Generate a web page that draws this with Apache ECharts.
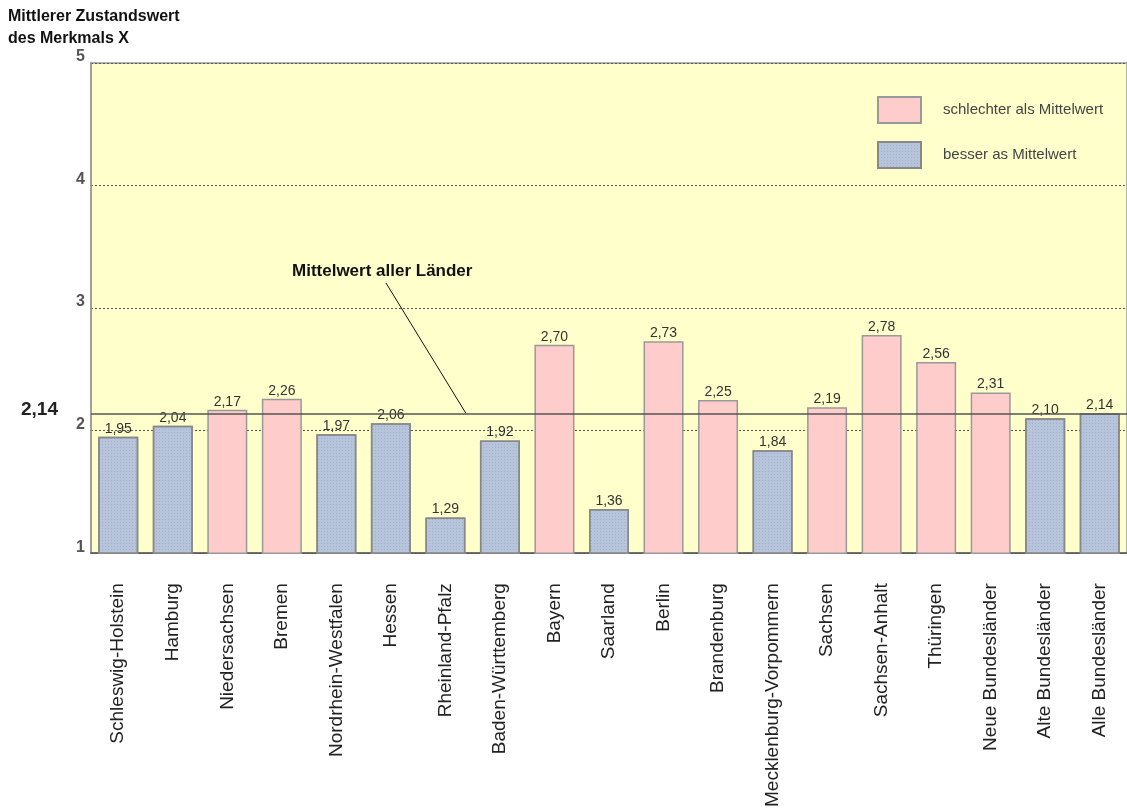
<!DOCTYPE html>
<html>
<head>
<meta charset="utf-8">
<script src="https://cdn.jsdelivr.net/npm/echarts@6/dist/echarts.min.js"></script>
<style>
  html, body { margin: 0; padding: 0; background: #ffffff; }
  #chart { width: 1127px; height: 810px; }
</style>
</head>
<body>
<div id="chart"></div>
<script>
// Länder and their mean condition value of feature X
const laender = [
  'Schleswig-Holstein', 'Hamburg', 'Niedersachsen', 'Bremen', 'Nordrhein-Westfalen',
  'Hessen', 'Rheinland-Pfalz', 'Baden-Württemberg', 'Bayern', 'Saarland', 'Berlin',
  'Brandenburg', 'Mecklenburg-Vorpommern', 'Sachsen', 'Sachsen-Anhalt', 'Thüringen',
  'Neue Bundesländer', 'Alte Bundesländer', 'Alle Bundesländer'
];
const werte = [
  1.95, 2.04, 2.17, 2.26, 1.97,
  2.06, 1.29, 1.92, 2.70, 1.36, 2.73,
  2.25, 1.84, 2.19, 2.78, 2.56,
  2.31, 2.10, 2.14
];
const mittelwert = 2.14;
const yTicks = [1, 2, 3, 4, 5];

const nameSchlechter = 'schlechter als Mittelwert';
const nameBesser = 'besser as Mittelwert';

const FONT = 'Arial, "Liberation Sans", sans-serif';
const fmt = v => v.toFixed(2).replace('.', ',');

const schlechter = werte.map(v => (v > mittelwert ? v : '-'));
const besser = werte.map(v => (v <= mittelwert ? v : '-'));

const chart = echarts.init(document.getElementById('chart'), null, { renderer: 'canvas' });

const barLabel = {
  show: true,
  position: 'top',
  distance: 1,
  color: '#333',
  fontFamily: FONT,
  fontSize: 14,
  formatter: p => fmt(p.value)
};

chart.setOption({
  animation: false,
  backgroundColor: '#ffffff',
  textStyle: { fontFamily: FONT },
  grid: {
    left: 91, top: 63, width: 1039, height: 493,
    show: true, backgroundColor: '#FFFFCC', borderColor: '#999', borderWidth: 1.5,
    containLabel: false
  },
  title: {
    text: 'Mittlerer Zustandswert\ndes Merkmals X',
    left: 8, top: 6, padding: 0,
    textStyle: { fontSize: 16, fontWeight: 'bold', color: '#111', lineHeight: 22, fontFamily: FONT }
  },
  legend: {
    orient: 'vertical',
    left: 877, top: 96, padding: 0,
    itemWidth: 43, itemHeight: 26, itemGap: 17,
    icon: 'rect',
    textStyle: { fontSize: 15, color: '#444', padding: [0, 0, 0, 17] },
    data: [nameSchlechter, nameBesser]
  },
  xAxis: {
    type: 'category',
    data: laender,
    axisTick: { show: false },
    axisLine: { lineStyle: { color: '#555', width: 1.5 } },
    axisLabel: {
      rotate: 90, interval: 0, margin: 30,
      fontSize: 19, color: '#222'
    }
  },
  yAxis: {
    type: 'value',
    min: 1, max: 5, interval: 1,
    axisLine: { show: true, lineStyle: { color: '#999', width: 1.5 } },
    axisTick: { show: false },
    axisLabel: {
      margin: 6, fontSize: 16, color: '#555', fontWeight: 'bold',
      verticalAlign: 'bottom', padding: [0, 0, -2, 0],
      formatter: v => (yTicks.includes(v) ? String(v) : '')
    },
    splitLine: { show: true, lineStyle: { color: '#555', type: [2, 2], width: 1 } }
  },
  series: [
    {
      name: nameSchlechter,
      type: 'bar',
      data: schlechter,
      barWidth: 40,
      barGap: '-100%',
      itemStyle: { color: '#FFCCCC', borderColor: '#999', borderWidth: 1.5 },
      label: barLabel,
      markLine: {
        silent: true,
        symbol: ['none', 'none'],
        lineStyle: { color: '#555', type: 'solid', width: 1.5 },
        label: { show: false },
        data: [{ yAxis: mittelwert }]
      }
    },
    {
      name: nameBesser,
      type: 'bar',
      data: besser,
      barWidth: 40,
      itemStyle: {
        color: '#B6C4DC', borderColor: '#888', borderWidth: 1.5,
        decal: {
          symbol: 'rect', symbolSize: 1,
          dashArrayX: [1, 2], dashArrayY: [1, 2],
          color: 'rgba(150,150,165,0.45)'
        }
      },
      label: barLabel
    }
  ]
});

// Mean value label on the left and annotation pointing at the mean line
const meanY = chart.convertToPixel({ yAxisIndex: 0 }, mittelwert);
chart.setOption({
  graphic: [
    {
      type: 'text', x: 58, y: meanY - 4,
      style: { text: fmt(mittelwert), font: 'bold 19px ' + FONT, fill: '#222',
               align: 'right', verticalAlign: 'middle' }
    },
    {
      type: 'text', x: 292, y: 271,
      style: { text: 'Mittelwert aller Länder', font: 'bold 17px ' + FONT,
               fill: '#111', align: 'left', verticalAlign: 'middle' }
    },
    {
      type: 'line',
      shape: { x1: 386, y1: 283, x2: 466, y2: meanY },
      style: { stroke: '#111', lineWidth: 1 }
    }
  ]
});
</script>
</body>
</html>
